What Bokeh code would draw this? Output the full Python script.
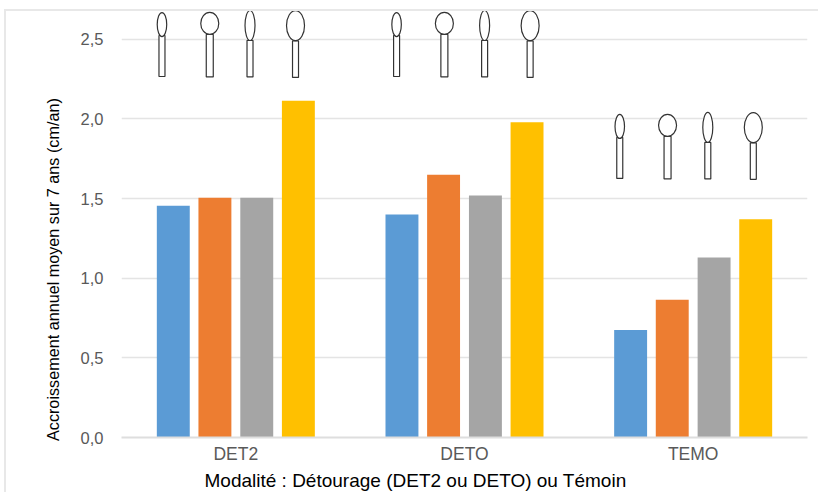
from bokeh.embed import file_html
from bokeh.models import ColumnDataSource, FactorRange, FixedTicker, InlineStyleSheet, Range1d, Title
from bokeh.plotting import figure
from bokeh.resources import INLINE
from bokeh.transform import dodge

groups = ["DET2", "DETO", "TEMO"]
series_1 = [1.455, 1.40, 0.675]
series_2 = [1.505, 1.65, 0.865]
series_3 = [1.505, 1.52, 1.13]
series_4 = [2.115, 1.98, 1.37]
colors = ["#5B9BD5", "#ED7D31", "#A5A5A5", "#FFC000"]
offsets = [-0.2735, -0.0915, 0.0915, 0.2735]
y_ticks = [0.0, 0.5, 1.0, 1.5, 2.0, 2.5]
y_labels = {0.0: "0,0", 0.5: "0,5", 1.0: "1,0", 1.5: "1,5", 2.0: "2,0", 2.5: "2,5"}
x_title = "Modalité : Détourage (DET2 ou DETO) ou Témoin"
y_title = "Accroissement annuel moyen sur 7 ans (cm/an)"

# Spoon-shaped tree sketches above each group of bars
spoon_group_shift = [0.0, 1.026, 2.002]
spoon_group_dy = [0.0, 0.0, -0.64]
spoon_centre = [-0.323, -0.114, 0.062, 0.261]
spoon_head_w = [9.5, 18, 10, 18]
spoon_head_h = [24, 22, 30, 30]
spoon_head_y = [2.593, 2.600, 2.587, 2.586]
spoon_stem_w = [6, 7, 6, 6]
spoon_stem_top = [2.524, 2.531, 2.493, 2.490]
spoon_stem_bottom = [2.267, 2.264, 2.264, 2.261]

PX_PER_UNIT = 437.5 / 2.744

border_css = InlineStyleSheet(css="""
:host::before {
  content: ""; position: absolute; left: 4px; top: 9px; width: 814px; height: 483px;
  box-sizing: border-box; border-top: 2px solid #E8E8E8; border-left: 2px solid #E8E8E8;
  z-index: 5; pointer-events: none;
}
""")

p = figure(x_range=FactorRange(*groups, range_padding=0, group_padding=0), y_range=Range1d(0, 2.744),
           width=818, height=492, output_backend="svg", toolbar_location=None,
           min_border_left=121, min_border_right=11, min_border_top=0, min_border_bottom=54,
           stylesheets=[border_css])
p.outline_line_color = None
p.xgrid.visible = False
p.ygrid.grid_line_color = "#E4E4E4"
p.ygrid.grid_line_width = 1.3
p.yaxis.ticker = FixedTicker(ticks=y_ticks)
p.yaxis.major_label_overrides = y_labels
p.yaxis.axis_line_color = None
p.yaxis.major_tick_line_color = None
p.yaxis.minor_tick_line_color = None
p.yaxis.major_label_text_color = "#595959"
p.yaxis.major_label_text_font = "Liberation Sans"
p.yaxis.major_label_text_font_size = "16.5px"
p.yaxis.major_label_standoff = 12
p.xaxis.axis_line_color = "#DEDEDE"
p.xaxis.axis_line_width = 2
p.xaxis.major_tick_line_color = None
p.xaxis.minor_tick_line_color = None
p.xaxis.major_label_text_color = "#595959"
p.xaxis.major_label_text_font = "Liberation Sans"
p.xaxis.major_label_text_font_size = "17.5px"
p.xaxis.major_label_standoff = 0

src = ColumnDataSource(dict(g=groups, s0=series_1, s1=series_2, s2=series_3, s3=series_4))
for i, off in enumerate(offsets):
    p.vbar(x=dodge("g", off, range=p.x_range), top=f"s{i}", width=0.144, source=src,
           fill_color=colors[i], line_color=None)

sx, hy, hw, hh, sw, smid, sh = [], [], [], [], [], [], []
for gi in range(len(groups)):
    for k in range(4):
        dy = spoon_group_dy[gi]
        sx.append(0.5 + spoon_group_shift[gi] + spoon_centre[k])
        hy.append(spoon_head_y[k] + dy)
        hw.append(spoon_head_w[k])
        hh.append(spoon_head_h[k])
        sw.append(spoon_stem_w[k])
        smid.append((spoon_stem_top[k] + spoon_stem_bottom[k]) / 2 + dy)
        sh.append((spoon_stem_top[k] - spoon_stem_bottom[k]) * PX_PER_UNIT)

spoons = ColumnDataSource(dict(x=sx, hy=hy, hw=hw, hh=hh, sw=sw, smid=smid, sh=sh))
p.rect(x="x", y="smid", width="sw", height="sh", width_units="screen", height_units="screen",
       source=spoons, fill_color="#FFFFFF", line_color="#333333", line_width=1.2)
p.ellipse(x="x", y="hy", width="hw", height="hh", width_units="screen", height_units="screen",
          source=spoons, fill_color="#FFFFFF", line_color="#333333", line_width=1.2)

p.add_layout(Title(text=x_title, align="left", offset=83, standoff=3,
                   text_font="Liberation Sans", text_font_size="19px", text_font_style="normal",
                   text_color="#000000"), "below")
p.add_layout(Title(text=y_title, align="left", offset=-3.5, standoff=31,
                   text_font="Liberation Sans", text_font_size="16.2px", text_font_style="normal",
                   text_color="#000000"), "left")

open("out.html", "w").write(file_html(p, INLINE))
